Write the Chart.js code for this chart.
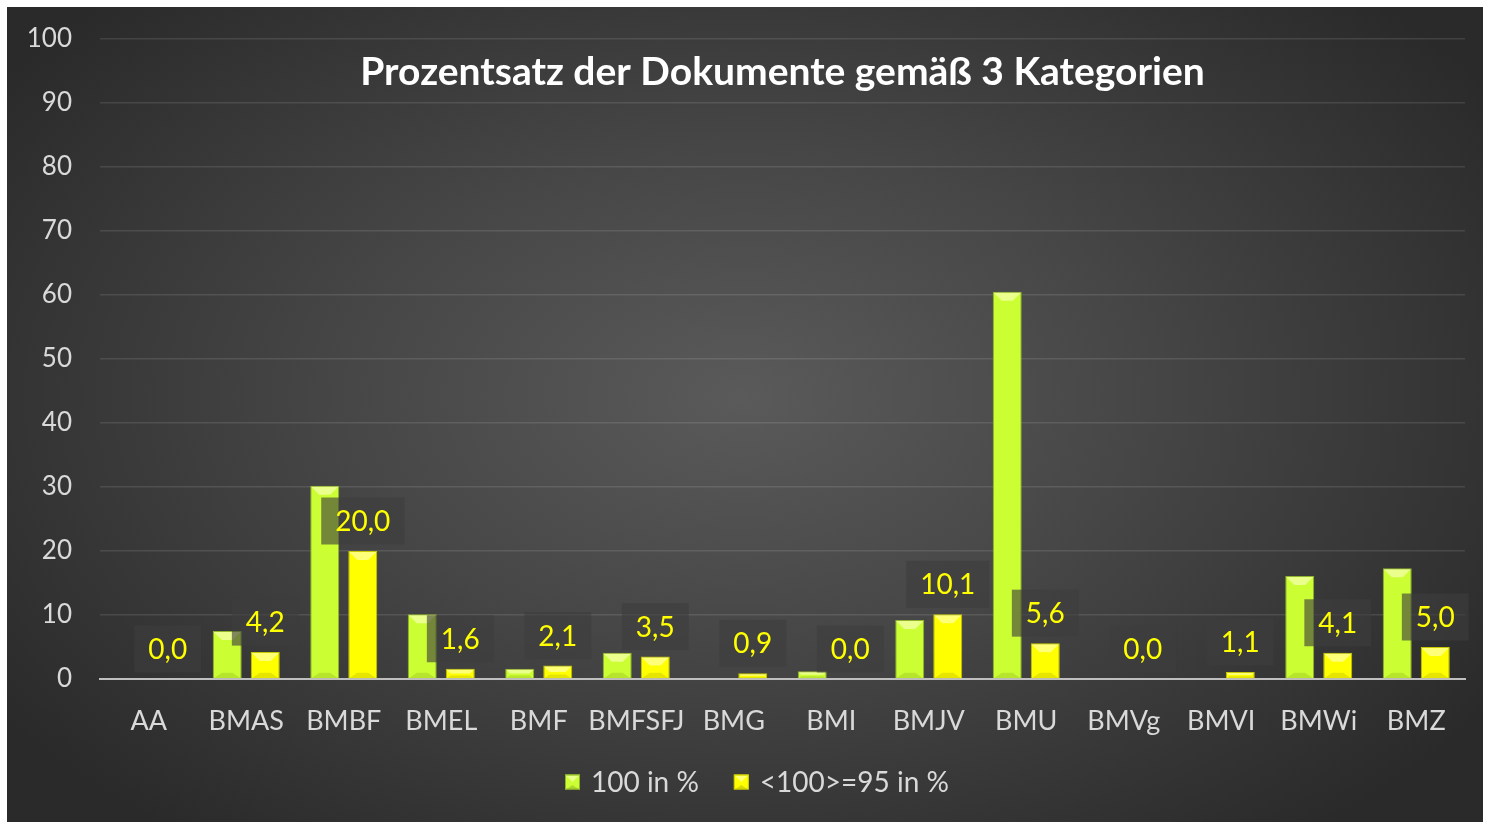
<!DOCTYPE html>
<html>
<head>
<meta charset="utf-8">
<script src="https://cdn.jsdelivr.net/npm/chart.js@4/dist/chart.umd.min.js"></script>
<style>
  html, body { margin: 0; padding: 0; background: #ffffff; }
  #wrap { position: absolute; left: 7px; top: 7px; width: 1476px; height: 815px; }
</style>
</head>
<body>
<div id="wrap"><canvas id="c" width="1476" height="815"></canvas></div>
<script>
const categories = ['AA','BMAS','BMBF','BMEL','BMF','BMFSFJ','BMG','BMI','BMJV','BMU','BMVg','BMVI','BMWi','BMZ'];
const series100 = [0, 7.5, 30.2, 10.1, 1.6, 4.1, 0, 1.2, 9.2, 60.5, 0, 0, 16.1, 17.3];
const series95 = [0.0, 4.2, 20.0, 1.6, 2.1, 3.5, 0.9, 0.0, 10.1, 5.6, 0.0, 1.1, 4.1, 5.0];
const seriesNames = ['100 in %', '<100>=95 in %'];
const yTicks = [0, 10, 20, 30, 40, 50, 60, 70, 80, 90, 100];
const titleText = 'Prozentsatz der Dokumente gemäß 3 Kategorien';

const FONT = 'Lato, "Open Sans", sans-serif';

function fmt(v) { return v.toFixed(1).replace('.', ','); }

const bgPlugin = {
  id: 'bg',
  beforeDraw(chart) {
    const ctx = chart.ctx, w = chart.width, h = chart.height;
    ctx.save();
    ctx.fillStyle = '#2b2b2b';
    ctx.fillRect(0, 0, w, h);
    ctx.translate(735, 390);
    ctx.scale(1, 0.62);
    const g = ctx.createRadialGradient(0, 0, 0, 0, 0, 900);
    g.addColorStop(0, '#5a5a5a');
    g.addColorStop(0.45, '#464646');
    g.addColorStop(1, '#2a2a2a');
    ctx.fillStyle = g;
    ctx.fillRect(-800, -800, 1600, 1600);
    ctx.restore();
  }
};

function bevel(ctx, el, light, dark) {
  const x0 = el.x - el.width / 2, x1 = el.x + el.width / 2;
  const top = Math.min(el.y, el.base), bot = Math.max(el.y, el.base);
  const h = bot - top, w = x1 - x0;
  if (h < 1) return;
  const s = Math.min(9, h / 2, w / 2);
  ctx.save();
  ctx.fillStyle = light;
  ctx.beginPath();
  ctx.moveTo(x0 + 1, top + 1); ctx.lineTo(x1 - 1, top + 1); ctx.lineTo(x1 - s, top + s); ctx.lineTo(x0 + s, top + s); ctx.closePath(); ctx.fill();
  ctx.fillStyle = dark;
  ctx.beginPath();
  ctx.moveTo(x0 + 1, bot); ctx.lineTo(x1 - 1, bot); ctx.lineTo(x1 - s, bot - s * 0.6); ctx.lineTo(x0 + s, bot - s * 0.6); ctx.closePath(); ctx.fill();
  ctx.restore();
}

const decoPlugin = {
  id: 'deco',
  afterDatasetsDraw(chart) {
    const ctx = chart.ctx;
    chart.data.datasets.forEach((ds, i) => {
      chart.getDatasetMeta(i).data.forEach(el => {
        bevel(ctx, el, 'rgba(255,255,200,0.6)', 'rgba(0,0,0,0.10)');
      });
    });
    const meta = chart.getDatasetMeta(1);
    ctx.save();
    ctx.font = '28px ' + FONT;
    ctx.textAlign = 'center';
    ctx.textBaseline = 'middle';
    meta.data.forEach((el, idx) => {
      const txt = fmt(chart.data.datasets[1].data[idx]);
      const tw = ctx.measureText(txt).width;
      const cx = el.x, cy = el.y - 30;
      const bw = tw + 28, bh = 47;
      ctx.fillStyle = 'rgba(62,62,62,0.62)';
      ctx.fillRect(cx - bw / 2, cy - bh / 2, bw, bh);
      ctx.fillStyle = '#ffff00';
      ctx.fillText(txt, cx, cy + 1);
    });
    ctx.restore();
  },
  afterDraw(chart) {
    const ctx = chart.ctx, ca = chart.chartArea;
    ctx.save();
    ctx.font = 'bold 39px ' + FONT;
    ctx.fillStyle = '#ffffff';
    ctx.textAlign = 'center';
    ctx.textBaseline = 'middle';
    ctx.fillText(titleText, (ca.left + ca.right) / 2, ca.top + 33);
    ctx.font = '28px ' + FONT;
    const box = 15, gapBoxText = 11, gapItems = 35;
    const items = chart.data.datasets.map(ds => ({ label: ds.label, fill: ds.backgroundColor, border: ds.borderColor, w: ctx.measureText(ds.label).width }));
    let x = 558;
    const y = 775;
    ctx.textAlign = 'left';
    items.forEach(it => {
      ctx.fillStyle = it.fill;
      ctx.fillRect(x, y - box / 2, box, box);
      bevel(ctx, { x: x + box / 2, width: box, y: y - box / 2, base: y + box / 2 }, 'rgba(255,255,200,0.6)', 'rgba(0,0,0,0.15)');
      ctx.strokeStyle = it.border; ctx.lineWidth = 1;
      ctx.strokeRect(x + 0.5, y - box / 2 + 0.5, box - 1, box - 1);
      x += box + gapBoxText;
      ctx.fillStyle = '#d9d9d9';
      ctx.fillText(it.label, x, y + 1);
      x += it.w + gapItems;
    });
    ctx.restore();
  }
};

new Chart(document.getElementById('c'), {
  type: 'bar',
  data: {
    labels: categories,
    datasets: [
      { label: seriesNames[0], data: series100, backgroundColor: '#ccff33', borderColor: '#8fb32a', borderWidth: 1, categoryPercentage: 0.78, barPercentage: 0.763 },
      { label: seriesNames[1], data: series95, backgroundColor: '#ffff00', borderColor: '#c8c800', borderWidth: 1, categoryPercentage: 0.78, barPercentage: 0.763 }
    ]
  },
  options: {
    responsive: false,
    animation: false,
    devicePixelRatio: 1,
    layout: { padding: { left: 0, right: 18, top: 32, bottom: 0 } },
    plugins: { legend: { display: false }, tooltip: { enabled: false }, title: { display: false } },
    scales: {
      x: {
        grid: { display: false, drawTicks: false },
        border: { display: true, color: '#bfbfbf', width: 2 },
        ticks: { color: '#d9d9d9', font: { family: FONT, size: 27 }, padding: 26, maxRotation: 0, autoSkip: false },
        afterFit(scale) { scale.height = 143; scale.paddingLeft = 0; scale.paddingRight = 0; }
      },
      y: {
        min: 0, max: 100,
        afterBuildTicks(scale) { scale.ticks = yTicks.map(v => ({ value: v })); },
        grid: { color: 'rgba(255,255,255,0.11)', lineWidth: 1.5, drawTicks: false },
        border: { display: false },
        ticks: { color: '#d9d9d9', font: { family: FONT, size: 26 }, padding: 28 },
        afterFit(scale) { scale.width = 93; scale.paddingTop = 0; scale.paddingBottom = 0; }
      }
    }
  },
  plugins: [bgPlugin, decoPlugin]
});
</script>
</body>
</html>
